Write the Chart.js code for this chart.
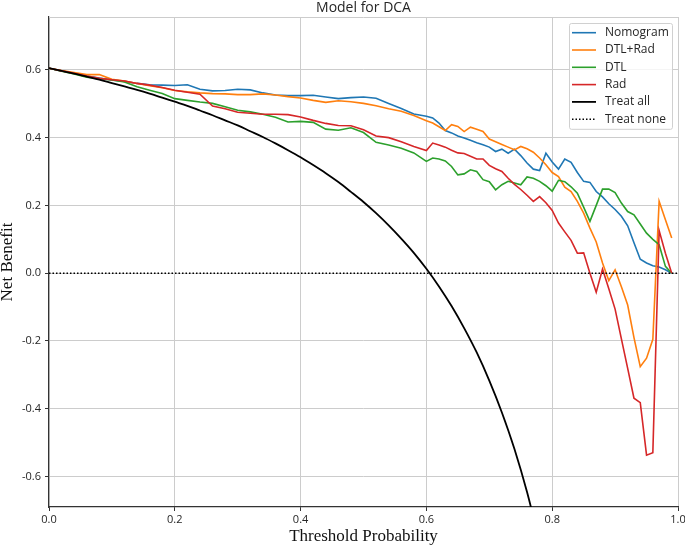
<!DOCTYPE html>
<html>
<head>
<meta charset="utf-8">
<title>Model for DCA</title>
<script src="https://cdn.jsdelivr.net/npm/chart.js@4.4.1/dist/chart.umd.min.js"></script>
<style>
  html, body { margin: 0; padding: 0; background: #fff; }
  #wrap { width: 685px; height: 547px; }
</style>
</head>
<body>
<div id="wrap"><canvas id="dcaChart" width="685" height="547"></canvas></div>
<script>
// Umbrales (eje x)
const thresholds = [
    0, 0.02, 0.04, 0.06, 0.08, 0.1, 0.12, 0.14, 0.16, 0.18,
    0.2, 0.22, 0.24, 0.26, 0.28, 0.3, 0.32, 0.34, 0.36, 0.38,
    0.4, 0.42, 0.44, 0.46, 0.48, 0.5, 0.52, 0.54, 0.56, 0.58,
    0.6, 0.61, 0.62, 0.63, 0.64, 0.65, 0.66, 0.67, 0.68, 0.69,
    0.7, 0.71, 0.72, 0.73, 0.74, 0.75, 0.76, 0.77, 0.78, 0.79,
    0.8, 0.81, 0.82, 0.83, 0.84, 0.85, 0.86, 0.87, 0.88, 0.89,
    0.9, 0.91, 0.92, 0.93, 0.94, 0.95, 0.96, 0.97, 0.98, 0.99
];

const nomogram = [
    0.605, 0.597, 0.590, 0.582, 0.576, 0.570, 0.566, 0.560, 0.556, 0.555,
    0.554, 0.556, 0.543, 0.538, 0.539, 0.543, 0.541, 0.532, 0.526, 0.524,
    0.524, 0.525, 0.520, 0.515, 0.518, 0.520, 0.516, 0.501, 0.486, 0.470,
    0.463, 0.458, 0.443, 0.421, 0.414, 0.405, 0.399, 0.392, 0.385, 0.379,
    0.372, 0.359, 0.366, 0.354, 0.366, 0.347, 0.325, 0.307, 0.303, 0.354,
    0.328, 0.307, 0.337, 0.327, 0.297, 0.271, 0.268, 0.241, 0.225, 0.205,
    0.188, 0.168, 0.140, 0.090, 0.041, 0.030, 0.022, 0.018, 0.010, 0.000
];

const dtlRad = [
    0.605, 0.598, 0.592, 0.586, 0.586, 0.572, 0.567, 0.560, 0.553, 0.547,
    0.539, 0.535, 0.532, 0.530, 0.529, 0.527, 0.527, 0.529, 0.526, 0.521,
    0.517, 0.510, 0.504, 0.509, 0.506, 0.501, 0.494, 0.485, 0.478, 0.465,
    0.450, 0.443, 0.432, 0.421, 0.438, 0.433, 0.418, 0.431, 0.425, 0.418,
    0.396, 0.388, 0.380, 0.372, 0.364, 0.374, 0.367, 0.357, 0.340, 0.320,
    0.297, 0.285, 0.254, 0.241, 0.212, 0.177, 0.133, 0.092, 0.030, -0.022,
    0.010, -0.040, -0.094, -0.190, -0.276, -0.251, -0.195, 0.212, 0.158, 0.104
];

const dtl = [
    0.605, 0.596, 0.588, 0.578, 0.574, 0.570, 0.564, 0.550, 0.540, 0.530,
    0.515, 0.510, 0.505, 0.501, 0.491, 0.481, 0.476, 0.469, 0.460, 0.446,
    0.448, 0.445, 0.425, 0.422, 0.429, 0.415, 0.386, 0.378, 0.369, 0.355,
    0.330, 0.340, 0.337, 0.331, 0.315, 0.290, 0.293, 0.305, 0.300, 0.276,
    0.270, 0.246, 0.261, 0.271, 0.266, 0.261, 0.284, 0.280, 0.271, 0.258,
    0.242, 0.274, 0.270, 0.255, 0.236, 0.195, 0.153, 0.200, 0.248, 0.248,
    0.238, 0.207, 0.182, 0.172, 0.145, 0.118, 0.100, 0.084, 0.020, 0.000
];

const rad = [
    0.605, 0.597, 0.590, 0.582, 0.575, 0.571, 0.567, 0.560, 0.555, 0.548,
    0.540, 0.534, 0.528, 0.493, 0.485, 0.475, 0.472, 0.469, 0.469, 0.468,
    0.461, 0.451, 0.442, 0.436, 0.435, 0.423, 0.405, 0.400, 0.388, 0.374,
    0.362, 0.384, 0.378, 0.372, 0.363, 0.355, 0.353, 0.345, 0.337, 0.337,
    0.318, 0.308, 0.300, 0.280, 0.262, 0.247, 0.230, 0.212, 0.226, 0.208,
    0.185, 0.148, 0.122, 0.097, 0.059, 0.060, 0.000, -0.056, 0.012, -0.046,
    -0.106, -0.194, -0.281, -0.369, -0.382, -0.537, -0.530, 0.126, 0.059, 0.000
];

// Curva "Treat all"
const treatAllX = [
    0, 0.02, 0.04, 0.06, 0.08, 0.1, 0.12, 0.14, 0.16, 0.18,
    0.2, 0.22, 0.24, 0.26, 0.28, 0.3, 0.32, 0.34, 0.36, 0.38,
    0.4, 0.42, 0.44, 0.46, 0.48, 0.5, 0.52, 0.54, 0.56, 0.58,
    0.6, 0.62, 0.64, 0.66, 0.68, 0.7, 0.72, 0.74, 0.76, 0.78
];
const treatAll = [
    0.605, 0.597, 0.589, 0.580, 0.571, 0.561, 0.551, 0.541, 0.530, 0.518,
    0.506, 0.494, 0.480, 0.466, 0.451, 0.436, 0.419, 0.402, 0.383, 0.363,
    0.342, 0.319, 0.295, 0.269, 0.240, 0.210, 0.177, 0.141, 0.102, 0.060,
    0.013, -0.039, -0.097, -0.162, -0.234, -0.317, -0.411, -0.519, -0.646, -0.795
];

const treatNoneX = [0, 1];
const treatNone = [0, 0];

const xTicks = [0, 0.2, 0.4, 0.6, 0.8, 1.0];
const yTicks = [-0.6, -0.4, -0.2, 0, 0.2, 0.4, 0.6];

function toPoints(xs, ys) {
    return xs.map((x, i) => ({ x: x, y: ys[i] }));
}

const tickFont = { family: '"Open Sans", "Noto Sans", sans-serif', size: 11 };
const serifFont = { family: '"Liberation Serif", "Times New Roman", serif', size: 17, lineHeight: 1.0 };

// Marco superior gris claro
const topFrame = {
    id: 'topFrame',
    beforeDatasetsDraw(chart) {
        const { ctx, chartArea } = chart;
        ctx.save();
        ctx.strokeStyle = '#cccccc';
        ctx.lineWidth = 1;
        ctx.beginPath();
        ctx.moveTo(chartArea.left, chartArea.top + 0.5);
        ctx.lineTo(chartArea.right, chartArea.top + 0.5);
        ctx.stroke();
        ctx.restore();
    }
};

// Leyenda dentro del area del grafico (arriba a la derecha)
const legendInside = {
    id: 'legendInside',
    afterDraw(chart) {
        const { ctx, chartArea } = chart;
        const items = chart.data.datasets;
        const boxW = 103, rowH = 17.3;
        const boxH = items.length * rowH + 2;
        const x0 = chartArea.right - 6 - boxW;
        const y0 = chartArea.top + 6;
        ctx.save();
        ctx.fillStyle = 'rgba(255,255,255,0.8)';
        ctx.strokeStyle = '#d0d0d0';
        ctx.lineWidth = 1;
        ctx.beginPath();
        ctx.roundRect(x0 + 0.5, y0 + 0.5, boxW, boxH, 2);
        ctx.fill();
        ctx.stroke();
        items.forEach((ds, i) => {
            const cy = y0 + 9.7 + i * rowH;
            ctx.beginPath();
            ctx.strokeStyle = ds.borderColor;
            ctx.lineWidth = ds.borderWidth;
            ctx.setLineDash(ds.borderDash || []);
            ctx.moveTo(x0 + 3, cy);
            ctx.lineTo(x0 + 27, cy);
            ctx.stroke();
            ctx.setLineDash([]);
            ctx.fillStyle = '#262626';
            ctx.font = '12px "Open Sans", "Noto Sans", sans-serif';
            ctx.textBaseline = 'middle';
            ctx.textAlign = 'left';
            ctx.fillText(ds.label, x0 + 36, cy);
        });
        ctx.restore();
    }
};

const ctx = document.getElementById('dcaChart').getContext('2d');
new Chart(ctx, {
    type: 'line',
    data: {
        datasets: [
            { label: 'Nomogram', data: toPoints(thresholds, nomogram), borderColor: '#1f77b4', borderWidth: 1.6, order: 6 },
            { label: 'DTL+Rad', data: toPoints(thresholds, dtlRad), borderColor: '#ff7f0e', borderWidth: 1.6, order: 5 },
            { label: 'DTL', data: toPoints(thresholds, dtl), borderColor: '#2ca02c', borderWidth: 1.6, order: 4 },
            { label: 'Rad', data: toPoints(thresholds, rad), borderColor: '#d62728', borderWidth: 1.6, order: 3 },
            { label: 'Treat all', data: toPoints(treatAllX, treatAll), borderColor: '#000000', borderWidth: 1.8, cubicInterpolationMode: 'monotone', order: 2 },
            { label: 'Treat none', data: toPoints(treatNoneX, treatNone), borderColor: '#000000', borderWidth: 1.6, borderDash: [1.5, 2], order: 1 }
        ]
    },
    options: {
        responsive: false,
        animation: false,
        elements: {
            point: { radius: 0 },
            line: { tension: 0, fill: false }
        },
        layout: { padding: { left: 0, right: 7, top: 0, bottom: 0 } },
        plugins: {
            legend: { display: false },
            tooltip: { enabled: false },
            title: {
                display: true,
                text: 'Model for DCA',
                fullSize: false,
                color: '#262626',
                font: { family: '"Open Sans", "Noto Sans", sans-serif', size: 14, weight: 'normal' },
                padding: { top: 0, bottom: 0.2 }
            }
        },
        scales: {
            x: {
                type: 'linear',
                min: 0,
                max: 1,
                afterBuildTicks: (scale) => { scale.ticks = xTicks.map(v => ({ value: v })); },
                afterFit: (scale) => { scale.height = 40; scale.paddingLeft = 0; scale.paddingRight = 0; },
                ticks: {
                    font: tickFont,
                    color: '#262626',
                    padding: 2,
                    maxRotation: 0,
                    callback: (v) => Number(v).toFixed(1)
                },
                grid: { color: '#cccccc', lineWidth: 1, tickColor: '#333333', tickLength: 4 },
                border: { color: '#333333', width: 1.2 },
                title: {
                    display: true,
                    text: 'Threshold Probability',
                    color: '#111111',
                    font: serifFont,
                    padding: { top: 0, bottom: 1.5 }
                }
            },
            y: {
                type: 'linear',
                min: -0.69,
                max: 0.756,
                afterBuildTicks: (scale) => { scale.ticks = yTicks.map(v => ({ value: v })); },
                afterFit: (scale) => { scale.width = 49; scale.paddingTop = 0; scale.paddingBottom = 0; },
                ticks: {
                    font: tickFont,
                    color: '#262626',
                    padding: 4,
                    callback: (v) => Number(v).toFixed(1)
                },
                grid: { color: '#cccccc', lineWidth: 1, tickColor: '#333333', tickLength: 4 },
                border: { color: '#333333', width: 1.2 },
                title: {
                    display: true,
                    text: 'Net Benefit',
                    color: '#111111',
                    font: { family: '"Liberation Serif", "Times New Roman", serif', size: 17, lineHeight: 0.85 },
                    padding: { top: 0, bottom: 0 }
                }
            }
        }
    },
    plugins: [topFrame, legendInside]
});
</script>
</body>
</html>
